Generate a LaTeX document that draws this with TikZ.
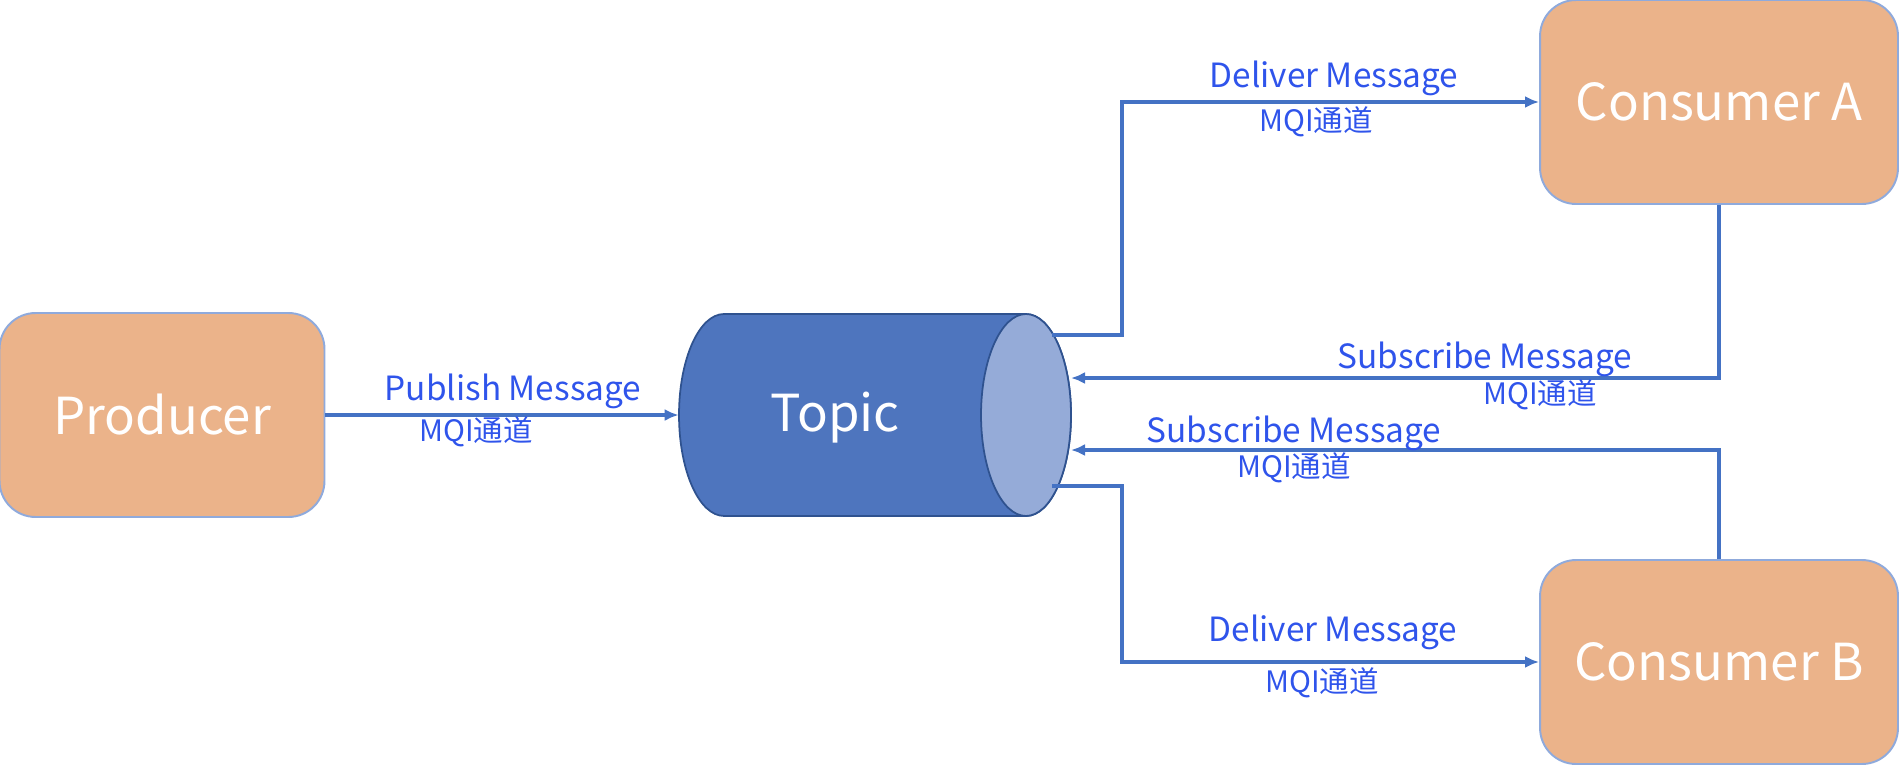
\documentclass[tikz,border=0pt]{standalone}
\usepackage{fontspec}
\setmainfont{Noto Sans CJK SC}
\usepackage{xcolor}
\usepackage{tikz}
\usetikzlibrary{calc}
\usetikzlibrary{arrows.meta,positioning}

\definecolor{boxfill}{RGB}{235,179,138}
\definecolor{boxline}{RGB}{143,170,220}
\definecolor{topicfill}{RGB}{78,117,190}
\definecolor{topicline}{RGB}{47,82,143}
\definecolor{topiccap}{RGB}{149,171,216}
\definecolor{flowline}{RGB}{68,114,196}
\definecolor{labeltext}{RGB}{47,84,235}

\tikzset{
	party/.style={rectangle,rounded corners=0.72cm,draw=boxline,line width=1.1pt,fill=boxfill,text=white,minimum height=4.08cm,font=\fontsize{29}{35}\selectfont},
	flow/.style={-{Latex[length=0.28cm,width=0.24cm]},line width=1.9pt,draw=flowline},
	msg/.style={text=labeltext,inner sep=0pt,font=\fontsize{19}{22}\selectfont},
	chan/.style={text=labeltext,inner sep=0pt,font=\fontsize{16.8}{20}\selectfont},
}

\begin{document}
\begin{tikzpicture}[x=0.02cm,y=-0.02cm]
		\useasboundingbox (0,0) rectangle (1902,764);
		\node[party,minimum width=6.5cm] (producer) at (162,415) {Producer};
		\node[party,minimum width=7.16cm] (consA) at (1719,102) {Consumer A};
		\node[party,minimum width=7.16cm] (consB) at (1719,662) {Consumer B};
		% the topic cylinder
		\node[minimum width=7.84cm,minimum height=4.04cm,inner sep=0pt] (topic) at (875,415) {};
		\filldraw[fill=topicfill,draw=topicline,line width=1pt] (1026,314) -- (724,314) arc[start angle=90,end angle=270,x radius=0.9cm,y radius=2.02cm] -- (1026,516) arc[start angle=270,end angle=450,x radius=0.9cm,y radius=2.02cm] -- cycle;
		\filldraw[fill=topiccap,draw=topicline,line width=1pt] (1026,415) ellipse[x radius=0.9cm,y radius=2.02cm];
		\node[text=white,font=\fontsize{29}{35}\selectfont] (topictxt) at (835,418) {Topic};
		% points on the cap
		\coordinate (outA) at (1052,335);
		\coordinate (elbowA) at (1122,335);
		\coordinate (inA) at (1071,378);
		\coordinate (inB) at (1071,450);
		\coordinate (outB) at (1052,486);
		\coordinate (elbowB) at (1122,486);
		\draw[flow] (producer.east) -- (topic.west);
		\draw[flow] (outA) -- (elbowA) |- (consA.west);
		\draw[flow] (consA.south) |- (inA);
		\draw[flow] (consB.north) |- (inB);
		\draw[flow] (outB) -- (elbowB) |- (consB.west);
		% labels
		\node[msg] (pubmsg) at (513,391) {Publish Message};
		\node[chan] (pubchan) at (476,432) {MQI通道};
		\node[msg] (delAmsg) at (1334,78) {Deliver Message};
		\node[chan] (delAchan) at (1316,122) {MQI通道};
		\node[msg] (subAmsg) at (1485,359) {Subscribe Message};
		\node[chan] (subAchan) at (1540,395) {MQI通道};
		\node[msg] (subBmsg) at (1294,433) {Subscribe Message};
		\node[chan] (subBchan) at (1294,468) {MQI通道};
		\node[msg] (delBmsg) at (1333,632) {Deliver Message};
		\node[chan] (delBchan) at (1322,683) {MQI通道};
	\end{tikzpicture}
\end{document}
